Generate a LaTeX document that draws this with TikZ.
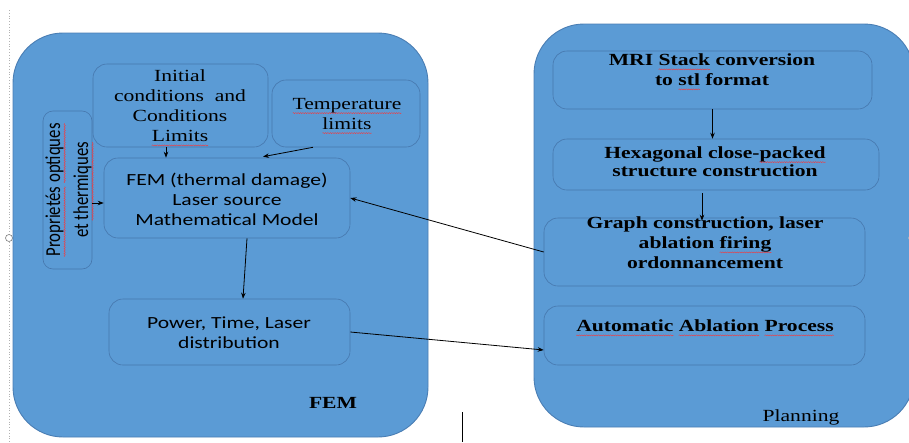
\documentclass[tikz,border=0pt]{standalone}
\usepackage{fontspec}
\usetikzlibrary{arrows.meta,calc,decorations.pathmorphing}
\newfontfamily\tnrfont[FakeStretch=1.27]{Liberation Serif}
\newfontfamily\calfont[FakeStretch=1.27]{Carlito}
\newfontfamily\calplain{Carlito}
\newsavebox\rwbox
\newcommand\rw[1]{\sbox\rwbox{#1}\rlap{\usebox\rwbox}\tikz[baseline=0pt,x=1pt,y=1pt]{\useasboundingbox (0,0) rectangle (\the\wd\rwbox,0); \draw[red!80, line width=0.35pt, decorate, decoration={snake, amplitude=0.55pt, segment length=2.4pt}] (0,-3.6) -- (\the\wd\rwbox,-3.6);}}
\definecolor{bfill}{HTML}{5B9BD5}
\definecolor{bdr}{HTML}{4677AD}
\definecolor{bbdr}{HTML}{4A7EB4}
\begin{document}
\begin{tikzpicture}[x=1pt,y=-1pt,
  box/.style={draw=bdr, fill=bfill, line width=0.6pt, rounded corners=14pt, inner sep=0pt},
  big/.style={draw=bbdr, fill=bfill, line width=0.9pt, rounded corners=50pt, inner sep=0pt},
  arr/.style={-{Stealth[length=6pt,width=4.5pt]}, line width=0.8pt, black},
  st/.style={font=\tnrfont\fontsize{17}{20}\selectfont, align=center, inner sep=0pt, text=black},
  sb/.style={font=\tnrfont\bfseries\fontsize{17}{20}\selectfont, align=center, inner sep=0pt, text=black},
  ss/.style={font=\calfont\fontsize{17}{20}\selectfont, align=center, inner sep=0pt, text=black}]
\useasboundingbox (0,0) rectangle (909,442);
\fill[white] (0,0) rectangle (909,442);
\clip (0,0) rectangle (909,442);

% editor artifacts
\coordinate (dtop) at (9,10);
\coordinate (dbot) at (9,442);
\draw[gray!60, dotted, line width=0.8pt] (dtop) -- (dbot);
\node[circle, draw=gray, fill=white, inner sep=0pt, minimum size=7pt, line width=0.6pt] (handle) at (9,238) {};
\coordinate (ltop) at (462,412);
\coordinate (lbot) at (462,442);
\draw[black, line width=1pt] (ltop) -- (lbot);

% big zones
\node[big, minimum width=415pt, minimum height=404pt] (femzone) at (220.5,235) {};
\node[big, minimum width=380pt, minimum height=403pt] (planzone) at (724,225.5) {};
\node[circle, draw=gray!70, fill=white, inner sep=0pt, minimum size=7pt] (handle2) at (912,238) {};

% FEM boxes
\node[box, minimum width=175pt, minimum height=83pt] (init) at (180.5,105.5) {};
\node[box, minimum width=148pt, minimum height=67pt] (temp) at (346,113.5) {};
\node[box, minimum width=49pt, minimum height=158pt, rounded corners=10pt] (props) at (67.5,190) {};
\node[box, minimum width=246pt, minimum height=80pt] (fem) at (227,198) {};
\node[box, minimum width=241pt, minimum height=66pt] (power) at (229.5,332) {};

% Planning boxes
\node[box, minimum width=319pt, minimum height=58pt] (mri) at (712.5,80) {};
\node[box, minimum width=326pt, minimum height=51pt] (hex) at (716,164.5) {};
\node[box, minimum width=321pt, minimum height=68pt] (graph) at (704.5,252) {};
\node[box, minimum width=321pt, minimum height=59pt] (auto) at (704.5,335.5) {};

% texts
\node[st] (inittxt) at (180,106) {Initial\\conditions~ and\\Conditions\\\rw{Limits}};
\node[st] (temptxt) at (347,114) {\rw{Temperature}\\\rw{limits}};
\node[rotate=90, inner sep=0pt] (propstxt) at (68.5,190) {\scalebox{1}[1.27]{\calplain\fontsize{16.75}{22}\selectfont\begin{tabular}{@{}c@{}}\rw{Proprietés} \rw{optiques}\\et \rw{thermiques}\end{tabular}}};
\node[ss] (femtxt) at (227,199) {FEM (thermal damage)\\Laser source\\Mathematical Model};
\node[ss] (powtxt) at (229,333) {Power, Time, Laser\\distribution};
\node[sb] (femlab) at (333,403) {FEM};
\node[sb] (mritxt) at (712,70) {MRI \rw{Stack} conversion\\to \rw{stl} format};
\node[sb, font=\tnrfont\bfseries\fontsize{17}{17.5}\selectfont] (hextxt) at (715,161.5) {Hexagonal close-\rw{packed}\\structure construction};
\node[sb] (graphtxt) at (705,243) {Graph construction, laser\\ablation \rw{firing}\\ordonnancement};
\node[sb] (autotxt) at (705,326) {\rw{Automatic} \rw{Ablation} \rw{Process}};
\node[st] (plantxt) at (801,417) {Planning};

% connectors
\draw[arr] ([xshift=-14.5pt]init.south) -- ([xshift=-14.5pt]init.south |- fem.north);
\draw[arr] ([xshift=-33pt]temp.south) -- ([xshift=36pt,yshift=1pt]fem.north);
\draw[arr] ([yshift=-13pt]props.east) -- ([yshift=-13pt]props.east -| fem.west);
\draw[arr] ([xshift=20pt]fem.south) -- ([xshift=13.5pt]power.north);
\draw[arr] (graph.west) -- (fem.east);
\draw[arr] (power.east) -- ([yshift=-14.5pt]auto.west);
\draw[arr] (mri.south) -- (mri.south |- hex.north);
\draw[arr] ([xshift=-14pt,yshift=-3pt]hex.south) -- ([xshift=-14pt,yshift=-3pt]hex.south |- graph.north);
\end{tikzpicture}
\end{document}
